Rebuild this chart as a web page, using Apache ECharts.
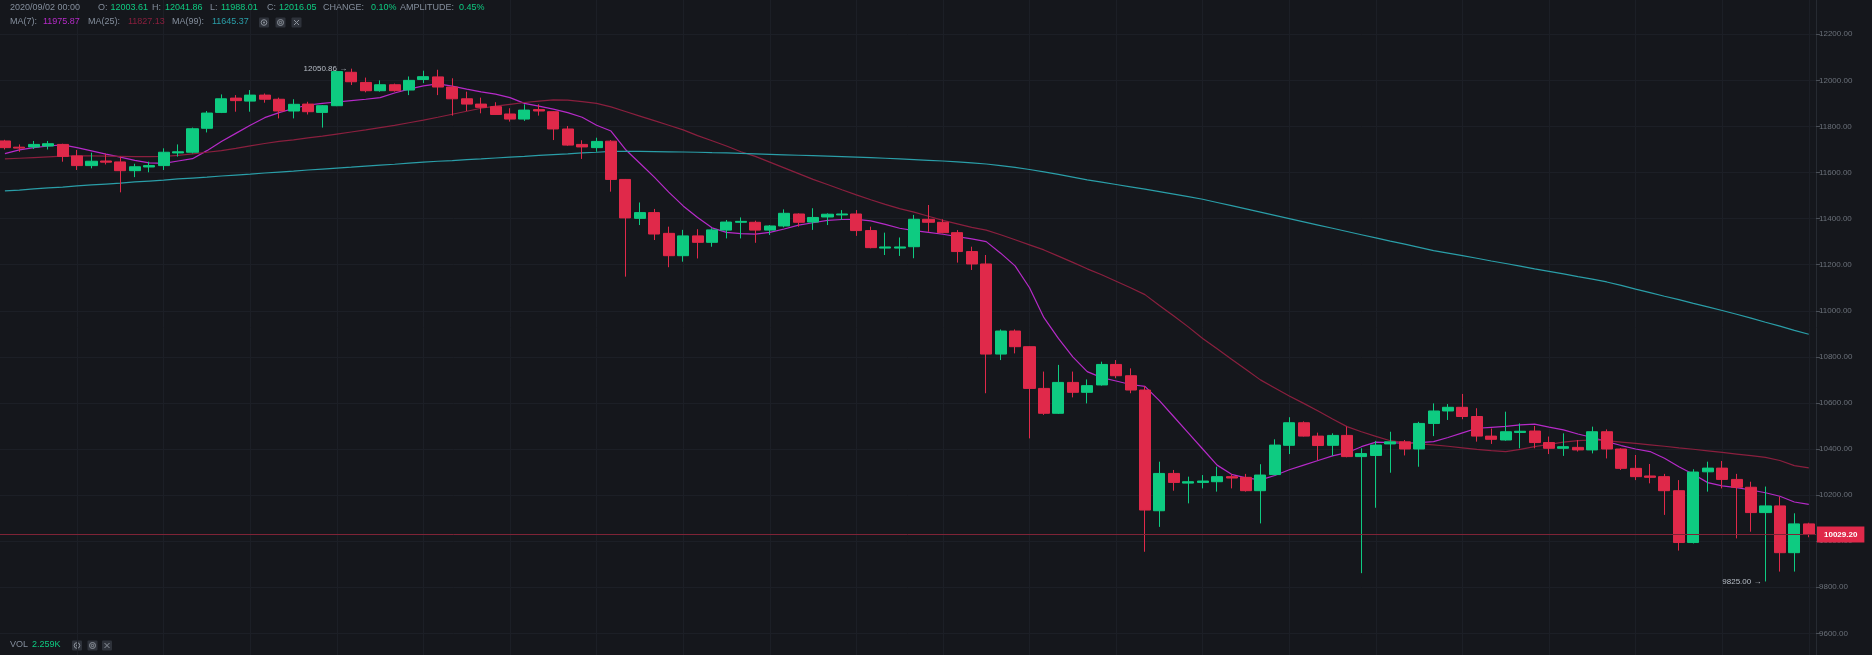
<!DOCTYPE html>
<html>
<head>
<meta charset="utf-8">
<title>BTC/USDT 1h</title>
<script src="https://cdn.jsdelivr.net/npm/echarts@6.0.0/dist/echarts.min.js"></script>
<style>
  html, body { margin: 0; padding: 0; background: #15171c; overflow: hidden; }
  #chart { width: 1872px; height: 655px; }
</style>
</head>
<body>
<div id="chart"></div>
<script>
// hourly candles, oldest first
const opens = [
  11737, 11710, 11711, 11715, 11722, 11672, 11630, 11650, 11646, 11608,
  11624, 11630, 11685, 11688, 11792, 11861, 11923, 11910, 11936, 11918,
  11867, 11897, 11861, 11890, 12035, 11991, 11955, 11981, 11958, 12003.61,
  12015, 11971, 11920, 11897, 11886, 11854, 11832, 11873, 11864, 11789,
  11722, 11708, 11736, 11570, 11401, 11426, 11336, 11239, 11325, 11297,
  11350, 11384, 11384, 11350, 11368, 11420, 11385, 11407, 11416, 11420,
  11348, 11272, 11272, 11278, 11397, 11384, 11339, 11257, 11203, 10812,
  10912, 10844, 10663, 10555, 10689, 10646, 10678, 10767, 10718, 10656,
  10132, 10294, 10252, 10255, 10258, 10280, 10277, 10219, 10289, 10416,
  10514, 10456, 10416, 10459, 10367, 10372, 10422, 10431, 10400, 10511,
  10565, 10581, 10541, 10456, 10439, 10472, 10478, 10428, 10403, 10407,
  10396, 10475, 10400, 10316, 10283, 10280, 10219, 9994, 10301, 10317,
  10268, 10234, 10124, 10153, 9950, 10075
];
const closes = [
  11708, 11706, 11722, 11725, 11670, 11630, 11649, 11645, 11608, 11625,
  11630, 11688, 11690, 11790, 11858, 11920, 11912, 11936, 11918, 11867,
  11896, 11864, 11890, 12038, 11994, 11955, 11981, 11955, 12000, 12016.05,
  11971, 11920, 11897, 11883, 11852, 11832, 11871, 11867, 11789, 11719,
  11711, 11735, 11570, 11403, 11426, 11333, 11239, 11325, 11297, 11351,
  11385, 11388, 11350, 11368, 11423, 11384, 11405, 11419, 11420, 11348,
  11274, 11277, 11277, 11397, 11384, 11339, 11257, 11203, 10812, 10912,
  10844, 10663, 10555, 10689, 10646, 10675, 10767, 10718, 10656, 10135,
  10294, 10255, 10258, 10261, 10280, 10274, 10219, 10287, 10417, 10514,
  10456, 10415, 10459, 10367, 10380, 10417, 10431, 10400, 10511, 10565,
  10581, 10541, 10456, 10442, 10475, 10477, 10428, 10403, 10410, 10396,
  10475, 10400, 10316, 10280, 10277, 10219, 9994, 10300, 10317, 10268,
  10234, 10124, 10153, 9950, 10075, 10029.2
];
const lows = [
  11700, 11690, 11702, 11700, 11647, 11611, 11618, 11635, 11514, 11580,
  11601, 11611, 11669, 11683, 11774, 11858, 11864, 11864, 11903, 11835,
  11835, 11852, 11795, 11888, 11980, 11948, 11951, 11951, 11936, 11988.01,
  11936, 11847, 11867, 11857, 11850, 11821, 11824, 11847, 11741, 11716,
  11659, 11690, 11517, 11148, 11372, 11307, 11189, 11213, 11227, 11278,
  11314, 11314, 11295, 11329, 11362, 11365, 11351, 11372, 11394, 11325,
  11271, 11242, 11238, 11228, 11343, 11336, 11209, 11177, 10642, 10786,
  10815, 10446, 10548, 10552, 10624, 10598, 10675, 10707, 10642, 9954,
  10062, 10219, 10164, 10229, 10215, 10229, 10215, 10077, 10286, 10378,
  10454, 10352, 10370, 10364, 9861, 10145, 10297, 10372, 10323, 10456,
  10526, 10529, 10432, 10422, 10436, 10403, 10403, 10378, 10370, 10389,
  10381, 10359, 10309, 10265, 10251, 10114, 9959, 9990, 10215, 10229,
  10012, 10041, 9825, 9868, 9868, 10017
];
const highs = [
  11742, 11722, 11737, 11737, 11725, 11698, 11686, 11682, 11669, 11638,
  11647, 11705, 11722, 11795, 11867, 11939, 11936, 11958, 11943, 11925,
  11918, 11907, 11893, 12042, 12050.86, 12012, 12000, 11986, 12017, 12041.86,
  12046, 12009, 11951, 11925, 11905, 11879, 11896, 11896, 11866, 11802,
  11740, 11751, 11741, 11572, 11470, 11442, 11365, 11351, 11354, 11358,
  11394, 11405, 11391, 11372, 11440, 11423, 11445, 11423, 11437, 11437,
  11365, 11339, 11318, 11416, 11459, 11397, 11350, 11278, 11242, 10919,
  10919, 10846, 10736, 10765, 10736, 10702, 10779, 10786, 10750, 10673,
  10345, 10309, 10280, 10287, 10323, 10290, 10292, 10334, 10442, 10538,
  10520, 10471, 10468, 10497, 10403, 10435, 10475, 10439, 10518, 10598,
  10595, 10639, 10577, 10489, 10562, 10511, 10500, 10454, 10468, 10439,
  10497, 10485, 10403, 10374, 10335, 10292, 10265, 10312, 10345, 10348,
  10292, 10258, 10237, 10193, 10121, 10080
];

// moving averages as drawn on the chart
const ma7 = [
  11682, 11698, 11708, 11715, 11720, 11708, 11694, 11680, 11667, 11653,
  11642, 11640, 11650, 11660, 11695, 11735, 11770, 11805, 11838, 11860,
  11878, 11893, 11900, 11906, 11912, 11918, 11925, 11945, 11962, 11975.87,
  11985, 11975, 11962, 11950, 11940, 11925, 11900, 11888, 11875, 11860,
  11840, 11805, 11780, 11700, 11640, 11580, 11515, 11455, 11405, 11360,
  11340, 11335, 11333, 11340, 11355, 11372, 11382, 11392, 11396, 11397,
  11390, 11375, 11358, 11348, 11340, 11332, 11322, 11312, 11300, 11250,
  11195, 11100, 10970, 10880, 10800, 10736, 10710, 10695, 10680, 10672,
  10610, 10540, 10470, 10400, 10330, 10290, 10275, 10266, 10285, 10310,
  10330, 10350, 10370, 10384, 10410, 10430, 10428, 10425, 10428, 10432,
  10450, 10470, 10490, 10494, 10498, 10505, 10508, 10495, 10483, 10465,
  10450, 10432, 10415, 10400, 10389, 10360, 10323, 10290, 10254, 10240,
  10232, 10222, 10210, 10195, 10170, 10160
];
const ma25 = [
  11659, 11662, 11665, 11668, 11671, 11672, 11672, 11671, 11670, 11669,
  11669, 11670, 11674, 11681, 11688, 11695, 11705, 11716, 11726, 11735,
  11742, 11750, 11758, 11767, 11776, 11785, 11795, 11805, 11816, 11827.13,
  11840, 11853, 11866, 11879, 11888, 11896, 11904, 11910, 11915, 11914,
  11908, 11900, 11885, 11865, 11845, 11825, 11805, 11785, 11760, 11738,
  11715, 11690, 11670, 11645, 11620, 11595, 11570, 11548, 11525, 11503,
  11482, 11462, 11443, 11428, 11410, 11392, 11377, 11362, 11350, 11330,
  11308, 11286, 11264, 11237, 11210, 11182, 11156, 11128, 11100, 11070,
  11023, 10977, 10930, 10880, 10835, 10790, 10745, 10700, 10665, 10630,
  10598, 10565, 10530, 10497, 10475, 10455, 10436, 10428, 10422, 10418,
  10412, 10405, 10398, 10393, 10389, 10398, 10410, 10420, 10430, 10436,
  10439, 10436, 10430, 10424, 10418, 10412, 10405, 10399, 10392, 10385,
  10378, 10371, 10364, 10350, 10328, 10318
];
const ma99 = [
  11520, 11524, 11529, 11533, 11537, 11542, 11546, 11550, 11554, 11559,
  11563, 11567, 11572, 11576, 11580, 11585, 11589, 11593, 11598, 11602,
  11606, 11611, 11615, 11619, 11623, 11628, 11632, 11636, 11641, 11645.37,
  11649, 11652, 11656, 11659, 11663, 11667, 11670, 11674, 11678, 11681,
  11685, 11688, 11692, 11692, 11692, 11691, 11690, 11689, 11688, 11686,
  11685, 11683, 11681, 11679, 11677, 11675, 11673, 11671, 11669, 11667,
  11665, 11662, 11659, 11656, 11653, 11650, 11646, 11642, 11637, 11630,
  11622, 11613, 11603, 11592, 11580, 11568, 11558, 11548, 11538, 11528,
  11517, 11506, 11495, 11484, 11470, 11456, 11442, 11428, 11414, 11400,
  11386, 11372, 11358, 11344, 11330, 11316, 11302, 11289, 11275, 11261,
  11250, 11239, 11228, 11216, 11205, 11194, 11182, 11171, 11160, 11148,
  11137, 11125, 11110, 11094, 11079, 11063, 11048, 11032, 11017, 11001,
  10985, 10968, 10950, 10933, 10915, 10898
];

const hoverIdx = 29;        // bar under the crosshair -> header readout
const volumeText = '2.259K';

// hourly time labels (axis labels are hidden, only used as categories)
const categories = [];
const t0 = Date.UTC(2020, 7, 31, 19);
const pad = n => String(n).padStart(2, '0');
for (let i = 0; i < opens.length; i++) {
    const d = new Date(t0 + i * 3600000);
    categories.push(`${d.getUTCFullYear()}/${pad(d.getUTCMonth() + 1)}/${pad(d.getUTCDate())} ${pad(d.getUTCHours())}:00`);
}

const UP = '#0ecb81';
const DOWN = '#e0294a';
const GRAY = '#848e9c';
const C_MA7 = '#b62ac8';
const C_MA25 = '#8a1f3e';
const C_MA99 = '#2a9ea8';
const FONT = "'Liberation Sans', Arial, sans-serif";

const candleData = opens.map((o, i) => [o, closes[i], lows[i], highs[i]]);
const hiIdx = highs.indexOf(Math.max(...highs));
const loIdx = lows.indexOf(Math.min(...lows));
const last = closes[closes.length - 1];

// header readout pieces
const ho = opens[hoverIdx], hh = highs[hoverIdx], hl = lows[hoverIdx], hc = closes[hoverIdx];
const change = ((hc - ho) / ho * 100).toFixed(2) + '%';
const amp = ((hh - hl) / ho * 100).toFixed(2) + '%';
const upColor = hc >= ho ? UP : DOWN;

const graphics = [];
function addText(x, y, text, color) {
    graphics.push({
        type: 'text', x: x, y: y, silent: true, z: 100,
        style: { text: text, fill: color, fontSize: 9, fontFamily: FONT, verticalAlign: 'middle' }
    });
}
function addIcon(x, y, kind) {
    const children = [{
        type: 'rect', shape: { x: 0, y: 0, width: 10, height: 10, r: 1 },
        style: { fill: '#2e323a' }
    }];
    const st = { fill: 'none', stroke: '#8d939c', lineWidth: 1 };
    if (kind === 'eye') {
        children.push({ type: 'circle', shape: { cx: 5, cy: 5, r: 2.8 }, style: st });
        children.push({ type: 'circle', shape: { cx: 5, cy: 5, r: 1 }, style: { fill: '#8d939c' } });
    } else if (kind === 'gear') {
        children.push({ type: 'circle', shape: { cx: 5, cy: 5, r: 3 }, style: st });
        children.push({ type: 'circle', shape: { cx: 5, cy: 5, r: 1.2 }, style: st });
    } else {
        children.push({ type: 'line', shape: { x1: 2.5, y1: 2.5, x2: 7.5, y2: 7.5 }, style: st });
        children.push({ type: 'line', shape: { x1: 7.5, y1: 2.5, x2: 2.5, y2: 7.5 }, style: st });
    }
    graphics.push({ type: 'group', x: x, y: y, silent: true, z: 100, children: children });
}

addText(10, 7.5, categories[hoverIdx], GRAY);
addText(98, 7.5, 'O:', GRAY);      addText(110.5, 7.5, ho.toFixed(2), upColor);
addText(152, 7.5, 'H:', GRAY);     addText(165, 7.5, hh.toFixed(2), upColor);
addText(210, 7.5, 'L:', GRAY);     addText(221, 7.5, hl.toFixed(2), upColor);
addText(267, 7.5, 'C:', GRAY);     addText(279, 7.5, hc.toFixed(2), upColor);
addText(323, 7.5, 'CHANGE:', GRAY); addText(371, 7.5, change, upColor);
addText(400, 7.5, 'AMPLITUDE:', GRAY); addText(459, 7.5, amp, upColor);

addText(10, 22, 'MA(7):', GRAY);   addText(43, 22, ma7[hoverIdx].toFixed(2), C_MA7);
addText(88, 22, 'MA(25):', GRAY);  addText(128, 22, ma25[hoverIdx].toFixed(2), C_MA25);
addText(172, 22, 'MA(99):', GRAY); addText(212, 22, ma99[hoverIdx].toFixed(2), C_MA99);
addIcon(259, 17.5, 'eye'); addIcon(275.5, 17.5, 'gear'); addIcon(291.5, 17.5, 'close');

addText(10, 645, 'VOL', GRAY);     addText(32, 645, volumeText, UP);
addIcon(72, 640.5, 'eye'); addIcon(87.5, 640.5, 'gear'); addIcon(102, 640.5, 'close');

const chart = echarts.init(document.getElementById('chart'), null, { renderer: 'canvas' });

function maSeries(name, data, color) {
    return {
        name: name, type: 'line', data: data, symbol: 'none', silent: true,
        lineStyle: { color: color, width: 1.2 }, z: 3
    };
}

chart.setOption({
    animation: false,
    backgroundColor: '#15171c',
    grid: { left: -2.3, right: 56, top: -11.8, bottom: -24.4, outerBoundsMode: 'none' },
    xAxis: {
        type: 'category',
        data: categories,
        boundaryGap: true,
        axisLine: { show: false },
        axisTick: { show: false },
        axisLabel: { show: false },
        splitLine: {
            show: true,
            alignWithLabel: true,
            interval: idx => idx % 6 === 5,
            lineStyle: { color: '#1c1f26', width: 1 }
        }
    },
    yAxis: {
        type: 'value',
        position: 'right',
        min: 9400,
        max: 12400,
        interval: 200,
        scale: true,
        axisLine: { show: true, lineStyle: { color: '#262a31' } },
        axisTick: { show: true, length: 4, lineStyle: { color: '#4a4f57' } },
        axisLabel: {
            color: '#6b717a', fontSize: 8, fontFamily: FONT, margin: 3,
            formatter: v => v.toFixed(2)
        },
        splitLine: { show: true, lineStyle: { color: '#1c1f26', width: 1 } }
    },
    series: [
        {
            name: 'K',
            type: 'candlestick',
            data: candleData,
            barWidth: '80%',
            silent: true,
            z: 4,
            itemStyle: {
                color: UP, color0: DOWN,
                borderColor: UP, borderColor0: DOWN,
                borderWidth: 1
            },
            markLine: {
                silent: true,
                symbol: ['none', 'none'],
                lineStyle: { color: '#7e2336', width: 1, type: 'solid' },
                label: {
                    position: 'end', distance: 1,
                    formatter: last.toFixed(2),
                    color: '#ffffff', backgroundColor: DOWN,
                    fontSize: 8, fontWeight: 'bold', fontFamily: FONT,
                    padding: [4, 7]
                },
                data: [{ yAxis: last }]
            },
            markPoint: {
                silent: true,
                symbol: 'circle',
                symbolSize: 0.1,
                itemStyle: { color: 'rgba(0,0,0,0)' },
                label: {
                    show: true, position: 'left', distance: 4,
                    color: '#b7bdc6', fontSize: 8, fontFamily: FONT,
                    formatter: p => p.value.toFixed(2) + ' \u2192'
                },
                data: [
                    { coord: [categories[hiIdx], highs[hiIdx]], value: highs[hiIdx] },
                    { coord: [categories[loIdx], lows[loIdx]], value: lows[loIdx] }
                ]
            }
        },
        maSeries('MA7', ma7, C_MA7),
        maSeries('MA25', ma25, C_MA25),
        maSeries('MA99', ma99, C_MA99)
    ],
    graphic: graphics
});
</script>
</body>
</html>
